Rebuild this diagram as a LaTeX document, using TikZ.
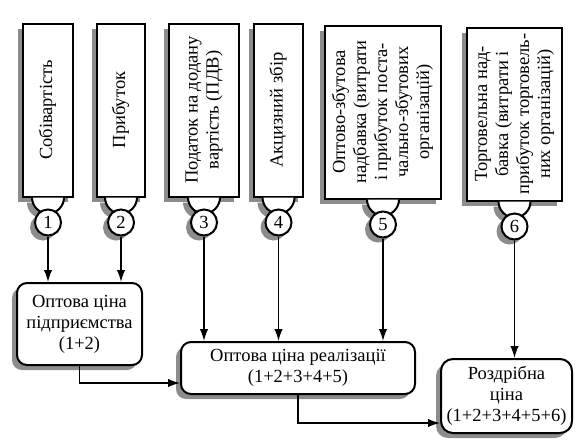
\documentclass[tikz,border=0pt]{standalone}
\usepackage{fontspec}
\setmainfont{Liberation Serif}
\usetikzlibrary{arrows.meta,positioning,shadows}
\tikzset{>={Latex[length=6pt,width=4.2pt]}}

\newcommand{\uptext}[1]{\rotatebox{90}{\begin{tabular}{@{}c@{}}#1\end{tabular}}}

\begin{document}
\begin{tikzpicture}[
    x=0.5pt, y=0.5pt,
    font=\fontsize{9.25}{10.5}\selectfont,
    shade/.style={general shadow={fill=black!45, shadow xshift=-2.5pt, shadow yshift=-2.5pt}},
    item/.style={draw, line width=1pt, fill=white, shade, inner sep=0pt, minimum height=86.5pt},
    num/.style={draw, circle, line width=1pt, fill=white, shade, inner sep=0pt, minimum size=13pt},
    price/.style={draw, line width=1pt, rounded corners=5pt, fill=white, shade, align=center, inner sep=0pt},
    link/.style={->, line width=0.7pt}
  ]
    \useasboundingbox (0,0) rectangle (585,447);
    % price components
    \node[item, minimum width=25pt] (b1) at (48,337) {\uptext{Собівартість}};
    \node[item, minimum width=24pt, right=11pt of b1] (b2) {\uptext{Прибуток}};
    \node[item, minimum width=35pt, right=11pt of b2] (b3) {\uptext{Податок на додану\\вартість (ПДВ)}};
    \node[item, minimum width=24.5pt, right=6.5pt of b3] (b4) {\uptext{Акцизний збір}};
    \node[item, minimum width=58pt, right=10pt of b4, yshift=-1pt] (b5) {\uptext{Оптово-збутова\\надбавка (витрати\\і прибуток поста-\\чально-збутових\\організацій)}};
    \node[item, minimum width=47.5pt, right=12pt of b5, yshift=-1pt] (b6) {\uptext{Торговельна над-\\бавка (витрати і\\прибуток торговель-\\них організацій)}};
    \foreach \b in {b1,b2,b3,b4,b5,b6}
      \draw[line width=1pt, fill=white, shade] ([xshift=-8pt]\b.south) arc[start angle=180, end angle=360, radius=8pt];
    \foreach \i in {1,...,6}
      \node[num, below=5.5pt of b\i] (n\i) {\i};
    % prices
    \node[price, minimum width=62.5pt, minimum height=41pt] (opt) at (79.5,123) {Оптова ціна\\підприємства\\(1+2)};
    \node[price, minimum width=117pt, minimum height=26pt] (real) at (298,79) {Оптова ціна реалізації\\(1+2+3+4+5)};
    \node[price, minimum width=65.5pt, minimum height=37pt, rounded corners=6pt] (retail) at (506.5,51) {Роздрібна\\ціна\\(1+2+3+4+5+6)};
    \draw[link] (n1) -- (n1 |- opt.north);
    \draw[link] (n2) -- (n2 |- opt.north);
    \draw[link] (n3) -- (n3 |- real.north);
    \draw[link] (n4) -- (n4 |- real.north);
    \draw[link] (n5) -- (n5 |- real.north);
    \draw[link] (n6) -- (n6 |- retail.north);
    \draw[link] (opt.south) |- ([yshift=-7.5pt]real.west);
    \draw[link] (real.south) |- ([yshift=-13.5pt]retail.west);
  \end{tikzpicture}
\end{document}
